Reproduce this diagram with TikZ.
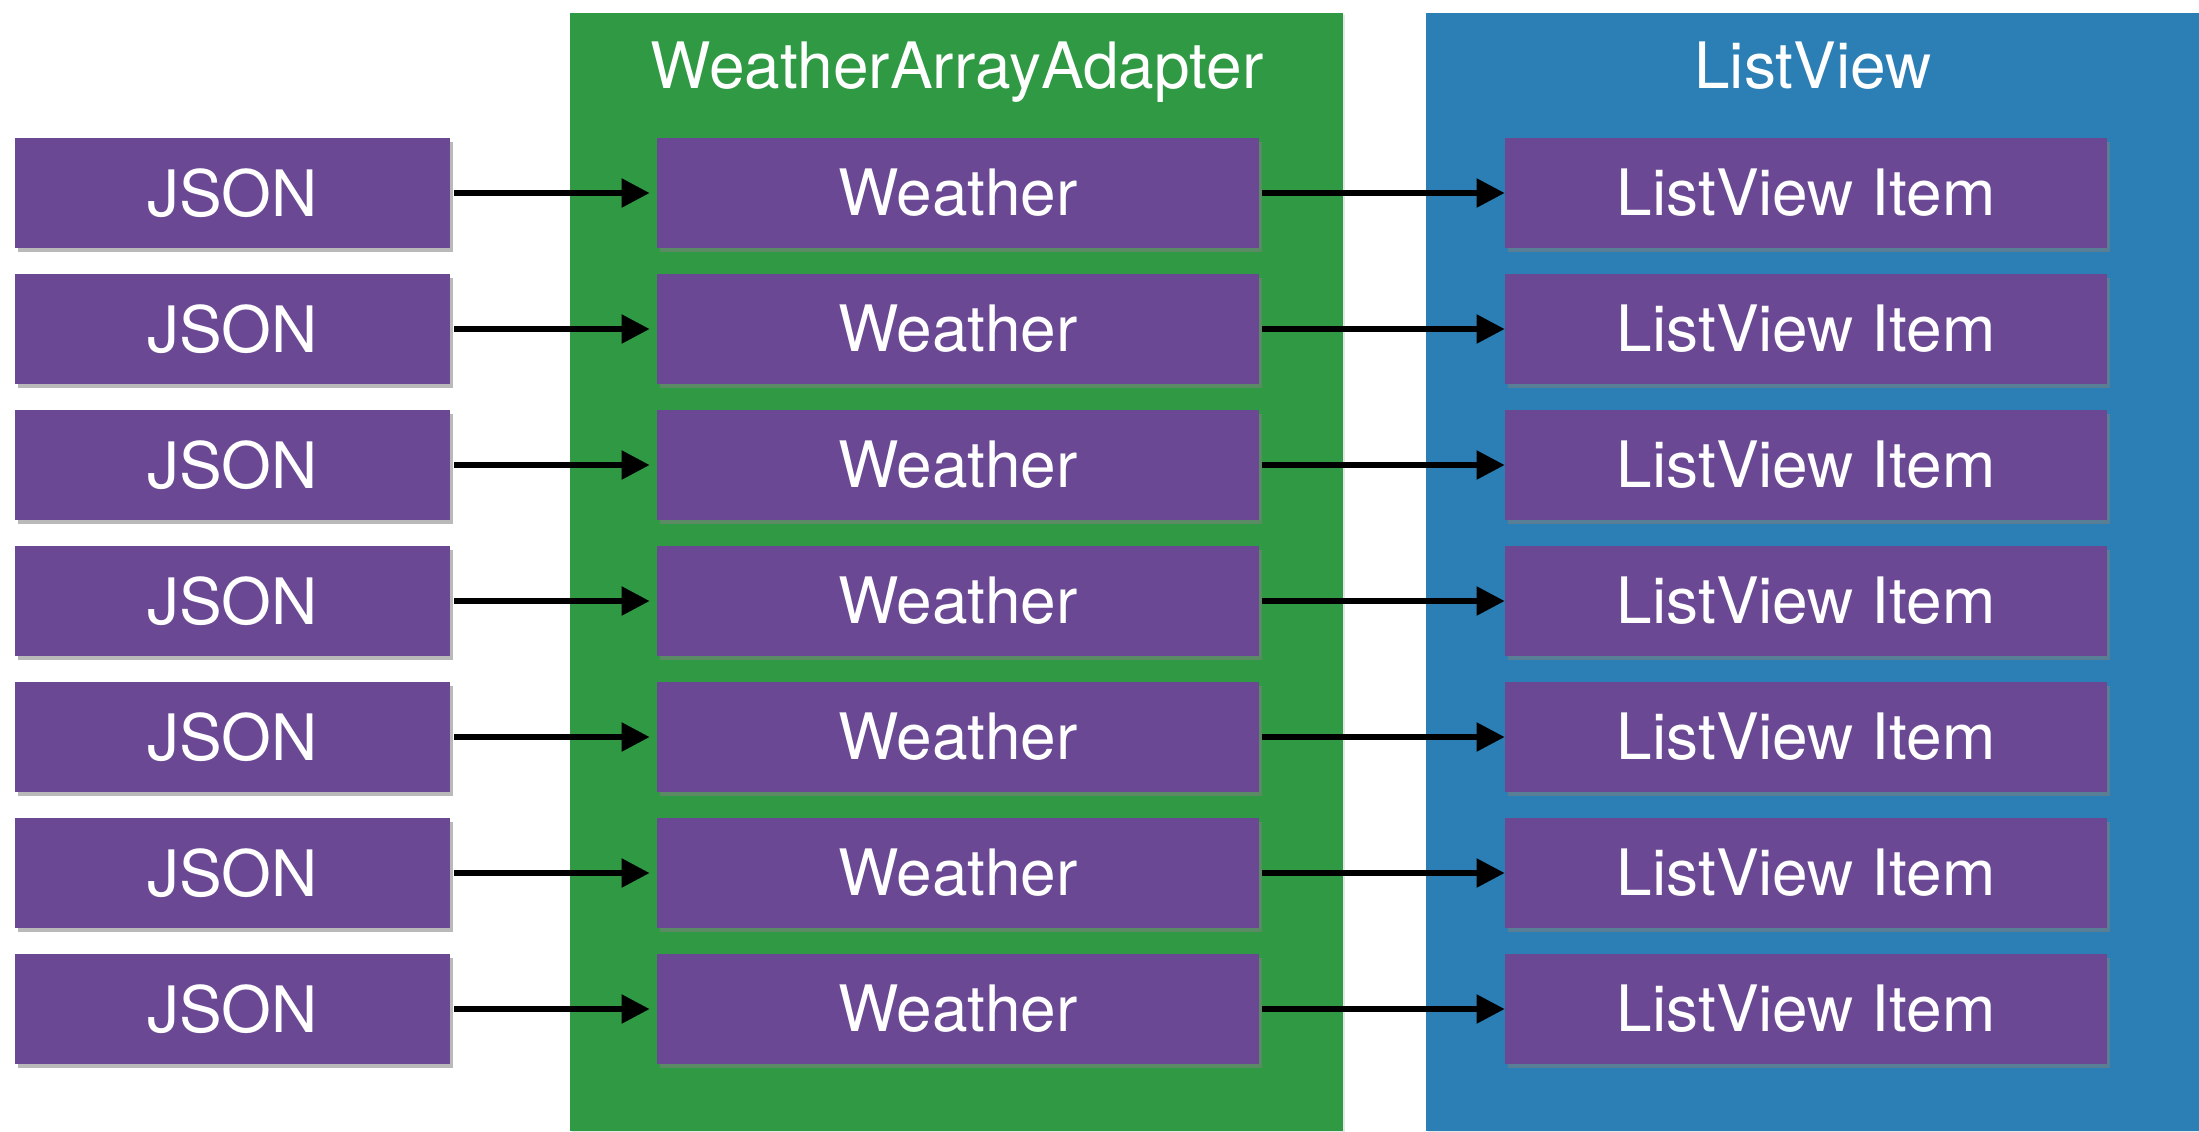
\documentclass[tikz,border=0pt]{standalone}
\usepackage{fontspec}
\setmainfont{TeX Gyre Heros}
\usetikzlibrary{arrows.meta,shadows}
\definecolor{boxpurple}{RGB}{107,72,147}
\definecolor{adaptgreen}{RGB}{47,154,67}
\definecolor{viewblue}{RGB}{43,127,181}
\begin{document}
\begin{tikzpicture}[x=0.5pt,y=-0.5pt,
  itembox/.style={fill=boxpurple, text=white, font=\fontsize{32}{38}\selectfont,
    minimum height=55pt, inner sep=0pt,
    drop shadow={shadow xshift=1.5pt, shadow yshift=-1.8pt, opacity=0.55}},
  jsonbox/.style={itembox, minimum width=217.5pt},
  wbox/.style={itembox, minimum width=301pt},
  lbox/.style={itembox, minimum width=301pt},
  panel/.style={minimum width=386.5pt, minimum height=559pt, inner sep=0pt, anchor=north west,
    drop shadow={shadow xshift=1pt, shadow yshift=-1pt, opacity=0.2}},
  flow/.style={line width=2.7pt, -{Triangle[length=14pt,width=14pt]}},
  paneltitle/.style={text=white, font=\fontsize{32}{38}\selectfont, anchor=base}]
\fill[white] (0,0) rectangle (2199,1131);
\useasboundingbox (0,0) rectangle (2199,1131);
\node[panel, fill=adaptgreen] (adapter) at (570,13) {};
\node[panel, fill=viewblue] (listview) at (1426,13) {};
\node[paneltitle] (adaptertitle) at (957,88) {WeatherArrayAdapter};
\node[paneltitle] (viewtitle) at (1813,88) {ListView};
\foreach \i in {0,...,6}{
  \pgfmathsetmacro\yc{193+136*\i}
  \node[jsonbox] (j\i) at (232.5,\yc) {JSON};
  \node[wbox] (w\i) at (958,\yc) {Weather};
  \node[lbox] (l\i) at (1806,\yc) {ListView Item};
  \draw[flow] ([xshift=2pt]j\i.east) -- ([xshift=-3.5pt]w\i.west);
  \draw[flow] ([xshift=1.5pt]w\i.east) -- (l\i.west);
}
\end{tikzpicture}
\end{document}
